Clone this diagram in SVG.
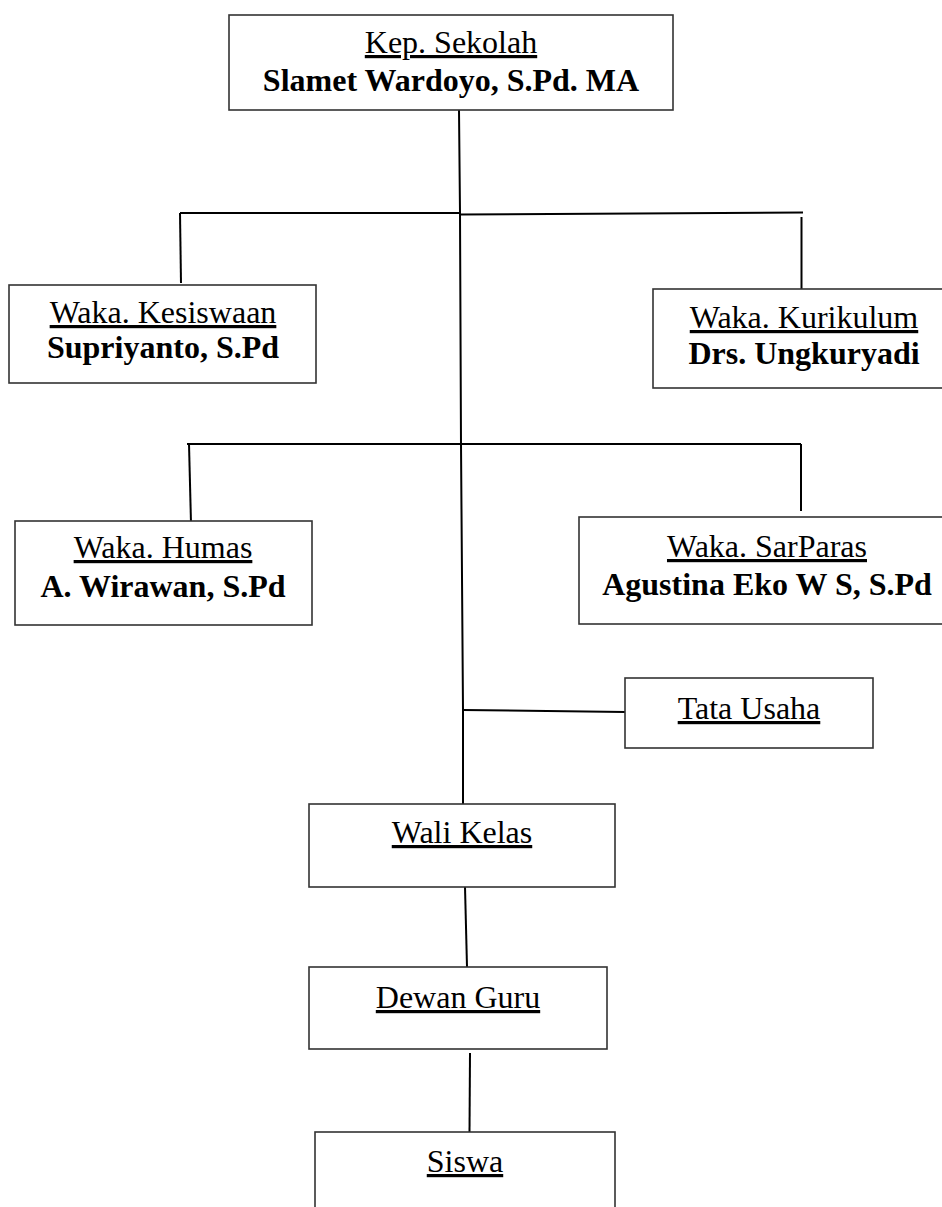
<svg xmlns="http://www.w3.org/2000/svg" width="942" height="1207" viewBox="0 0 942 1207">
<style>
.box{fill:#fff;stroke:#333;stroke-width:1.6}
.t{font-family:"Liberation Serif","Times New Roman",serif;font-size:32px;fill:#000;text-anchor:middle}
.u{text-decoration:underline}
.b{font-weight:bold}
.c{fill:none;stroke:#000;stroke-width:2}
</style>
<rect width="942" height="1207" fill="#fff"/>
<g id="connectors">
<polyline class="c" points="459,110 460,213 461,444 463,710 463,804"/>
<line class="c" x1="180" y1="213" x2="460" y2="213"/>
<line class="c" x1="460" y1="214.5" x2="803" y2="212.5"/>
<line class="c" x1="180" y1="213" x2="181" y2="283"/>
<line class="c" x1="801.5" y1="217" x2="801.5" y2="289"/>
<line class="c" x1="187" y1="444" x2="801" y2="444"/>
<line class="c" x1="189" y1="444" x2="191" y2="523"/>
<line class="c" x1="801" y1="444" x2="801" y2="511"/>
<line class="c" x1="463" y1="710" x2="625" y2="712"/>
<line class="c" x1="465" y1="887" x2="467" y2="967"/>
<line class="c" x1="470" y1="1053" x2="469.5" y2="1132"/>
</g>
<g id="kepsek">
<rect class="box" x="229" y="15" width="444" height="95"/>
<text class="t u" x="451" y="53">Kep. Sekolah</text>
<text class="t b" x="451" y="91">Slamet Wardoyo, S.Pd. MA</text>
</g>
<g id="kesiswaan">
<rect class="box" x="9" y="285" width="307" height="98"/>
<text class="t u" x="163" y="323">Waka. Kesiswaan</text>
<text class="t b" x="163" y="358">Supriyanto, S.Pd</text>
</g>
<g id="kurikulum">
<rect class="box" x="653" y="289" width="303" height="99"/>
<text class="t u" x="804" y="328">Waka. Kurikulum</text>
<text class="t b" x="804" y="364">Drs. Ungkuryadi</text>
</g>
<g id="humas">
<rect class="box" x="15" y="521" width="297" height="104"/>
<text class="t u" x="163" y="558">Waka. Humas</text>
<text class="t b" x="163" y="597">A. Wirawan, S.Pd</text>
</g>
<g id="sarparas">
<rect class="box" x="579" y="517" width="377" height="107"/>
<text class="t u" x="767" y="557">Waka. SarParas</text>
<text class="t b" x="767" y="595">Agustina Eko W S, S.Pd</text>
</g>
<g id="tatausaha">
<rect class="box" x="625" y="678" width="248" height="70"/>
<text class="t u" x="749" y="719">Tata Usaha</text>
</g>
<g id="walikelas">
<rect class="box" x="309" y="804" width="306" height="83"/>
<text class="t u" x="462" y="843">Wali Kelas</text>
</g>
<g id="dewanguru">
<rect class="box" x="309" y="967" width="298" height="82"/>
<text class="t u" x="458" y="1008">Dewan Guru</text>
</g>
<g id="siswa">
<rect class="box" x="315" y="1132" width="300" height="100"/>
<text class="t u" x="465" y="1172">Siswa</text>
</g>
</svg>
